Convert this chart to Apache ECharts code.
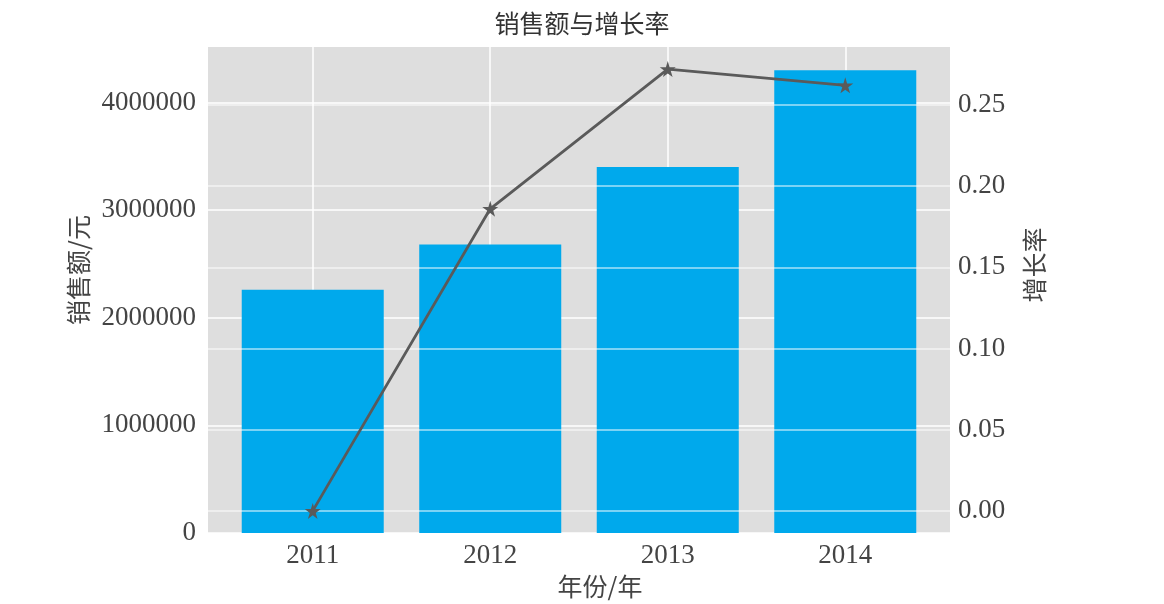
<!DOCTYPE html>
<html><head><meta charset="utf-8">
<script src="https://cdn.jsdelivr.net/npm/echarts@6/dist/echarts.min.js"></script>
<style>html,body{margin:0;padding:0;background:#fff}#c{width:1164px;height:604px}</style>
</head><body><div id="c"></div>
<script>
const years = ['2011', '2012', '2013', '2014'];
const sales = [2260000, 2680000, 3400000, 4300000];
const growth = [0, 0.186, 0.272, 0.262];
const salesTicks = [0, 1000000, 2000000, 3000000, 4000000];
const growthTicks = [0, 0.05, 0.10, 0.15, 0.20, 0.25];

const xIdx = years.map((y, i) => i);
const barData = sales.map((v, i) => [i, v]);
const lineData = growth.map((v, i) => [i, v]);
const sMax = Math.max(...sales), gMax = Math.max(...growth);

const serif = 'Liberation Serif';
const cjk = 'Noto Sans CJK SC';
const star = 'path://M50,0 L61,35 L98,35 L68,57 L79,91 L50,70 L21,91 L32,57 L2,35 L39,35 Z';

const chart = echarts.init(document.getElementById('c'));
const plotW = 1164 - 208 - 214;
const xMin = -0.4 - 0.05 * (years.length - 0.2), xMax = years.length - 1 + 0.4 + 0.05 * (years.length - 0.2);
chart.setOption({
  animation: false,
  title: { text: '销售额与增长率', left: 'center', top: 6,
    textStyle: { fontFamily: cjk, fontSize: 25, fontWeight: 'normal', color: '#333' } },
  grid: { left: 208, right: 214, top: 47, bottom: 71, show: true, backgroundColor: '#dedede', borderWidth: 0 },
  xAxis: {
    type: 'value', min: xMin, max: xMax, z: 0,
    name: '年份/年', nameLocation: 'middle', nameGap: 36,
    nameTextStyle: { fontFamily: cjk, fontSize: 25, color: '#444', padding: [0, 0, 0, 42] },
    axisLine: { show: false },
    axisTick: { show: false, customValues: xIdx },
    axisLabel: { customValues: xIdx, formatter: v => years[Math.round(v)], margin: 9,
      fontFamily: serif, fontSize: 27, color: '#444' },
    splitLine: { show: true, lineStyle: { color: '#ffffff', width: 1.5 } }
  },
  yAxis: [{
    type: 'value', min: 0, max: sMax * 1.05, z: 0,
    name: '销售额/元', nameLocation: 'middle', nameGap: 112, nameRotate: 90,
    nameTextStyle: { fontFamily: cjk, fontSize: 25, color: '#444', padding: [0, 0, 0, 40] },
    axisLine: { show: false },
    axisTick: { show: false, customValues: salesTicks },
    axisLabel: { customValues: salesTicks, formatter: v => String(v), margin: 12,
      fontFamily: serif, fontSize: 27, color: '#444' },
    splitLine: { show: true, lineStyle: { color: '#ffffff', width: 1.5 } }
  }, {
    type: 'value', min: -0.05 * gMax, max: 1.05 * gMax, position: 'right', z: 0,
    name: '增长率', nameLocation: 'middle', nameGap: 72, nameRotate: 90,
    nameTextStyle: { fontFamily: cjk, fontSize: 25, color: '#444', padding: [0, 0, 0, 50] },
    axisLine: { show: false },
    axisTick: { show: false, customValues: growthTicks },
    axisLabel: { customValues: growthTicks, formatter: v => v.toFixed(2), margin: 8,
      fontFamily: serif, fontSize: 27, color: '#444' },
    splitLine: { show: false }
  }],
  series: [{
    type: 'bar', data: barData, yAxisIndex: 0, z: 2,
    barWidth: 0.8 * plotW / (xMax - xMin),
    itemStyle: { color: '#00a9ec' }
  }, {
    type: 'line', data: lineData, yAxisIndex: 1, z: 5,
    symbol: star, symbolSize: 16,
    lineStyle: { color: '#5a5a5a', width: 2.8 },
    itemStyle: { color: '#5a5a5a' },
    markLine: {
      silent: true, symbol: 'none', label: { show: false },
      lineStyle: { color: 'rgba(255,255,255,0.65)', width: 1.5, type: 'solid' },
      emphasis: { disabled: true },
      data: growthTicks.map(v => ({ yAxis: v }))
    }
  }]
});
</script></body></html>
